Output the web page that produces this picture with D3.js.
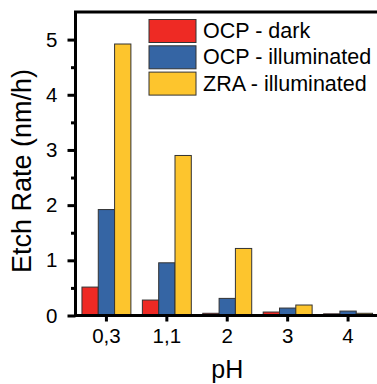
<!DOCTYPE html>
<html>
<head>
<meta charset="utf-8">
<script src="https://cdn.jsdelivr.net/npm/d3@7"></script>
<style>
  body { margin: 0; background: #fff; }
  svg { display: block; font-family: Arial, "Liberation Sans", sans-serif; }
</style>
</head>
<body>
<div id="chart"></div>
<script>
// pH categories and etch rates (nm/h)
const categories = ["0,3", "1,1", "2", "3", "4"];
const seriesNames = ["OCP - dark", "OCP - illuminated", "ZRA - illuminated"];
const ocpDark = [0.515, 0.28, 0.04, 0.063, 0.03];
const ocpIllum = [1.92, 0.955, 0.31, 0.135, 0.08];
const zraIllum = [4.92, 2.90, 1.215, 0.19, 0.04];
const yTicks = [0, 1, 2, 3, 4, 5];
const colors = ["#ee2a24", "#3565a4", "#fdc52d"];

const seriesValues = [ocpDark, ocpIllum, zraIllum];

const width = 377, height = 384;
const plotLeft = 75.5, plotRight = 379, plotTop = 12, plotBottom = 315.5;

const svg = d3.select("#chart")
    .append("svg")
    .attr("width", width)
    .attr("height", height);

const x = d3.scaleBand()
    .domain(categories)
    .range([plotLeft, plotRight])
    .paddingInner(0.19)
    .paddingOuter(0.107);

const xSub = d3.scaleBand()
    .domain(seriesNames)
    .range([0, x.bandwidth()]);

const y = d3.scaleLinear()
    .domain([0, 5.5])
    .range([plotBottom, plotTop]);

// bars
const groups = svg.append("g")
    .selectAll("g")
    .data(categories)
    .join("g")
    .attr("transform", d => `translate(${x(d)},0)`);

groups.selectAll("rect")
    .data((d, i) => seriesNames.map((s, j) => ({ s: s, v: seriesValues[j][i], c: colors[j] })))
    .join("rect")
    .attr("x", d => xSub(d.s))
    .attr("y", d => y(d.v))
    .attr("width", xSub.bandwidth())
    .attr("height", d => plotBottom - y(d.v))
    .attr("fill", d => d.c)
    .attr("stroke", "#333")
    .attr("stroke-width", 1);

// minor ticks on y axis
const yMinor = svg.append("g")
    .attr("transform", `translate(${plotLeft},0)`)
    .call(d3.axisLeft(y).tickValues([0.5, 1.5, 2.5, 3.5, 4.5]).tickSize(4.5).tickFormat(""));
yMinor.select(".domain").remove();
yMinor.selectAll("line").attr("stroke", "#000").attr("stroke-width", 3);

// y axis
const yAxis = svg.append("g")
    .attr("transform", `translate(${plotLeft},0)`)
    .call(d3.axisLeft(y).tickValues(yTicks).tickSize(8).tickPadding(10).tickFormat(d3.format("d")));
yAxis.select(".domain").remove();
yAxis.selectAll("line").attr("stroke", "#000").attr("stroke-width", 3);
yAxis.selectAll("text")
    .attr("font-size", 20.5)
    .attr("fill", "#000")
    .attr("font-family", "Arial, 'Liberation Sans', sans-serif");

// x axis
const xAxis = svg.append("g")
    .attr("transform", `translate(0,${plotBottom})`)
    .call(d3.axisBottom(x).tickSize(6).tickPadding(7));
xAxis.select(".domain").remove();
xAxis.selectAll("line").attr("stroke", "#000").attr("stroke-width", 3);
xAxis.selectAll("text")
    .attr("font-size", 20.5)
    .attr("fill", "#000")
    .attr("font-family", "Arial, 'Liberation Sans', sans-serif");

// frame lines
svg.append("line")
    .attr("x1", plotLeft).attr("x2", plotLeft)
    .attr("y1", plotTop).attr("y2", plotBottom + 1.5)
    .attr("stroke", "#000").attr("stroke-width", 3);
svg.append("line")
    .attr("x1", plotLeft - 1.5).attr("x2", width)
    .attr("y1", plotBottom).attr("y2", plotBottom)
    .attr("stroke", "#000").attr("stroke-width", 3);
svg.append("line")
    .attr("x1", plotLeft - 1.5).attr("x2", width)
    .attr("y1", plotTop).attr("y2", plotTop)
    .attr("stroke", "#000").attr("stroke-width", 3);

// axis titles
svg.append("text")
    .attr("transform", `translate(31,171) rotate(-90)`)
    .attr("text-anchor", "middle")
    .attr("font-size", 27)
    .text("Etch Rate (nm/h)");

svg.append("text")
    .attr("x", (plotLeft + plotRight) / 2)
    .attr("y", 378)
    .attr("text-anchor", "middle")
    .attr("font-size", 25)
    .text("pH");

// legend
const legend = svg.append("g")
    .selectAll("g")
    .data(seriesNames)
    .join("g")
    .attr("transform", (d, i) => `translate(149,${19.5 + i * 26.3})`);

legend.append("rect")
    .attr("width", 47)
    .attr("height", 23)
    .attr("fill", (d, i) => colors[i])
    .attr("stroke", "#333")
    .attr("stroke-width", 1);

legend.append("text")
    .attr("x", 54)
    .attr("y", 18.5)
    .attr("font-size", 21.5)
    .text(d => d);
</script>
</body>
</html>
